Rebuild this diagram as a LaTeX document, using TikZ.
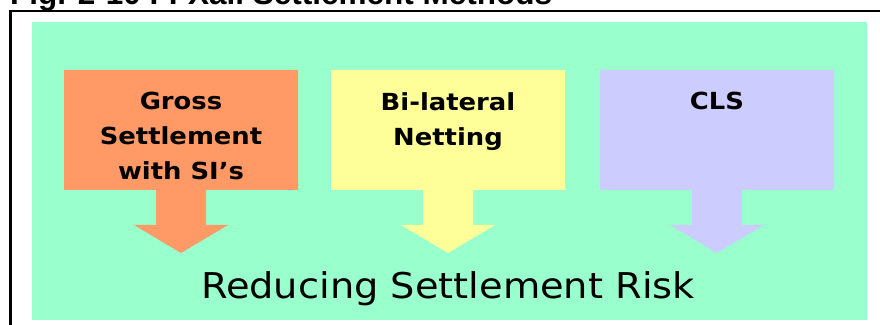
\documentclass[tikz,border=0pt]{standalone}
\usepackage{fontspec}
\newfontfamily\boxfont{DejaVu Sans}[FakeStretch=1.1]
\newfontfamily\riskfont{DejaVu Sans}[FakeStretch=1.08]
\newfontfamily\titlefont{Liberation Sans}
\definecolor{bggreen}{HTML}{99FFCC}
\definecolor{grossorange}{HTML}{FF9966}
\definecolor{nettyellow}{HTML}{FFFF99}
\definecolor{clsblue}{HTML}{CCCCFF}
\tikzset{
  method/.style={font=\boxfont\bfseries\fontsize{23.5}{35}\selectfont,
                 align=center, anchor=north, inner sep=0pt},
}
\begin{document}
\begin{tikzpicture}[x=1pt, y=1pt]
      \useasboundingbox (0, 0) rectangle (880, 324);
      \node (title) [anchor=base west, inner sep=0pt,
            font=\titlefont\bfseries\fontsize{31.5}{36}\selectfont]
            at (10, 319) {Fig. 2-10 FFXall Settlement Methods};
      \draw [line width=2.4pt] (10.5, -5) -- (10.5, 313) -- (885, 313);
      \fill [bggreen] (32, 4) rectangle (867, 302);
      \foreach \cx/\col in {181/grossorange, 448/nettyellow, 717/clsblue}
        \fill [\col] (\cx-117, 254) -- (\cx+117, 254) -- (\cx+117, 134)
                     -- (\cx+25, 134) -- (\cx+25, 99) -- (\cx+47, 99)
                     -- (\cx, 71) -- (\cx-47, 99) -- (\cx-25, 99)
                     -- (\cx-25, 134) -- (\cx-117, 134) -- cycle;
      \node (gross) [method] at (181, 232) {Gross\\Settlement\\with SI’s};
      \node (netting) [method] at (448, 232) {Bi-lateral\\Netting};
      \node (cls) [method] at (717, 232) {CLS};
      \node (risk) [anchor=base, inner sep=0pt,
            font=\riskfont\fontsize{35.5}{40}\selectfont]
            at (448, 26) {Reducing Settlement Risk};
\end{tikzpicture}
\end{document}
